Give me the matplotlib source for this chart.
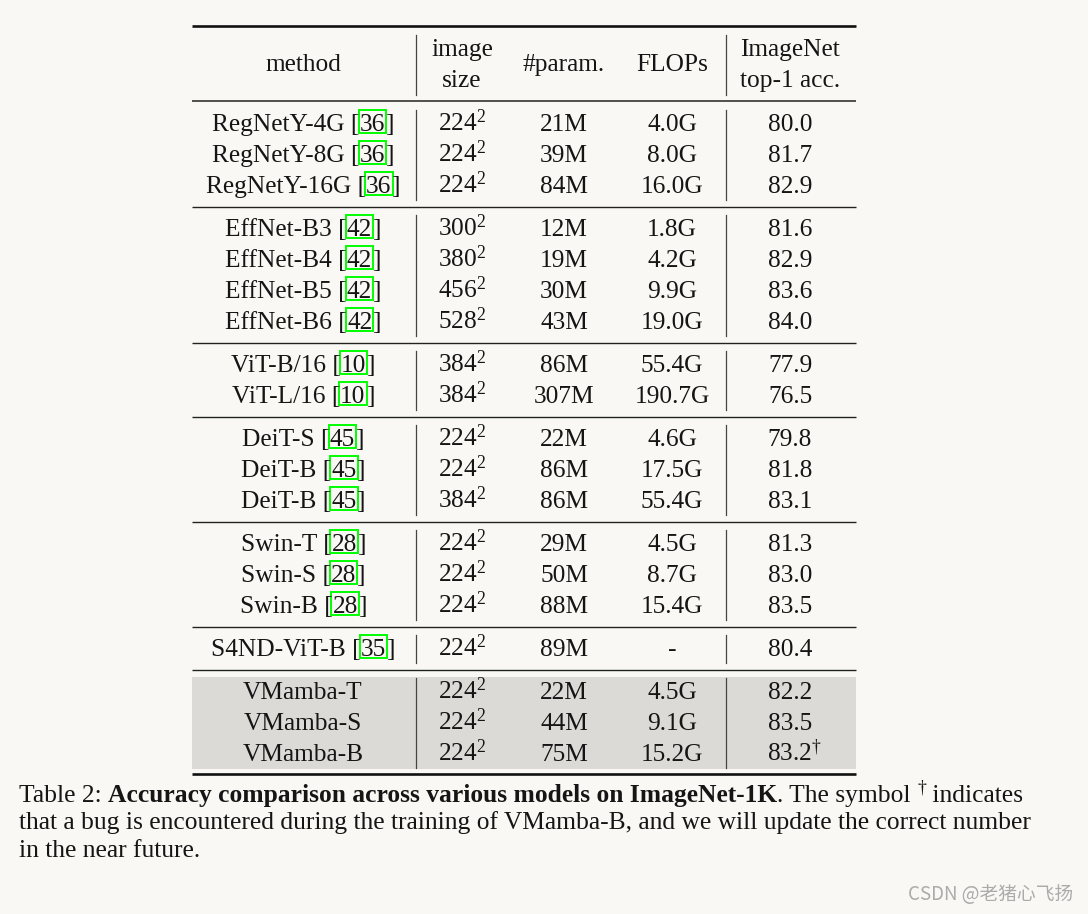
import matplotlib
matplotlib.use('Agg')
import matplotlib.pyplot as plt
from matplotlib.patches import Rectangle

# table data
groups = [3, 4, 2, 3, 3, 1, 3]
methods = ['RegNetY-4G', 'RegNetY-8G', 'RegNetY-16G',
           'EffNet-B3', 'EffNet-B4', 'EffNet-B5', 'EffNet-B6',
           'ViT-B/16', 'ViT-L/16',
           'DeiT-S', 'DeiT-B', 'DeiT-B',
           'Swin-T', 'Swin-S', 'Swin-B',
           'S4ND-ViT-B',
           'VMamba-T', 'VMamba-S', 'VMamba-B']
cites = ['36', '36', '36', '42', '42', '42', '42', '10', '10',
         '45', '45', '45', '28', '28', '28', '35', '', '', '']
image_sizes = ['224', '224', '224', '300', '380', '456', '528', '384', '384',
               '224', '224', '384', '224', '224', '224', '224', '224', '224', '224']
params = ['21M', '39M', '84M', '12M', '19M', '30M', '43M', '86M', '307M',
          '22M', '86M', '86M', '29M', '50M', '88M', '89M', '22M', '44M', '75M']
flops = ['4.0G', '8.0G', '16.0G', '1.8G', '4.2G', '9.9G', '19.0G', '55.4G', '190.7G',
         '4.6G', '17.5G', '55.4G', '4.5G', '8.7G', '15.4G', '-', '4.5G', '9.1G', '15.2G']
acc = ['80.0', '81.7', '82.9', '81.6', '82.9', '83.6', '84.0', '77.9', '76.5',
       '79.8', '81.8', '83.1', '81.3', '83.0', '83.5', '80.4', '82.2', '83.5', '83.2']
acc_mark = [''] * 18 + [r'$^{\dagger}$']
highlight_group = 6

caption_lines = [
    [('Table 2: ', 'normal'), ('Accuracy comparison across various models on ImageNet-1K', 'bold'),
     ('. The symbol ', 'normal'), ('†', 'sup'), (' indicates', 'normal')],
    [('that a bug is encountered during the training of VMamba-B, and we will update the correct number', 'normal')],
    [('in the near future.', 'normal')],
]

W, H = 1088, 914
BG = '#f9f8f5'
BAND = '#dbdad6'
INK = '#151515'
SERIF = 'Liberation Serif'
FS = 18.3
CAP_FS = 18.4

plt.rcParams['mathtext.fontset'] = 'custom'
plt.rcParams['mathtext.rm'] = SERIF
plt.rcParams['mathtext.it'] = SERIF + ':italic'
plt.rcParams['mathtext.bf'] = SERIF + ':bold'

fig = plt.figure(figsize=(W / 100, H / 100), dpi=100, facecolor=BG)
ax = fig.add_axes([0, 0, 1, 1])
ax.set_xlim(0, W)
ax.set_ylim(H, 0)
ax.axis('off')
ax.set_facecolor(BG)
renderer = fig.canvas.get_renderer()


def width_of(s, size, weight='normal'):
    t = ax.text(0, 0, s, fontsize=size, family=SERIF, weight=weight)
    bb = t.get_window_extent(renderer)
    t.remove()
    return bb.width


def draw_pieces(pieces, x, base, align='center', size=FS):
    # pieces: (text, kind) ; kind in normal/bold/sup/box ; base = baseline y
    widths = []
    for s, kind in pieces:
        sz = size * 0.7 if kind == 'sup' else size
        w = width_of(s, sz, 'bold' if kind == 'bold' else 'normal')
        widths.append(w)
    total = sum(widths)
    cx = x - total / 2 if align == 'center' else x
    for (s, kind), w in zip(pieces, widths):
        if kind == 'sup':
            ax.text(cx, base - size * 0.5, s, fontsize=size * 0.7, family=SERIF,
                    ha='left', va='baseline', color=INK)
        else:
            ax.text(cx, base, s, fontsize=size, family=SERIF, ha='left', va='baseline',
                    weight='bold' if kind == 'bold' else 'normal', color=INK)
        if kind == 'box':
            ax.add_patch(Rectangle((cx - 1, base - 21), w + 2, 23, fill=False,
                                   edgecolor='#00ff00', lw=1.4))
        cx += w


def ctext(x, base, s):
    ax.text(x, base, s, fontsize=FS, family=SERIF, ha='center', va='baseline', color=INK)


L, R = 192, 856
VX = [416, 726]
col_x = [303, 462, 564, 672, 790]

# rules
ax.plot([L, R], [26, 26], color='#111111', lw=1.9, solid_capstyle='butt')
ax.plot([L, R], [101, 101], color='#222222', lw=1.1, solid_capstyle='butt')

# header
ctext(col_x[0], 71, 'method')
ctext(col_x[1], 56, 'image')
ctext(col_x[1], 87, 'size')
ctext(col_x[2], 71, '#param.')
ctext(col_x[3], 71, 'FLOPs')
ctext(col_x[4], 56, 'ImageNet')
ctext(col_x[4], 87, 'top-1 acc.')
for vx in VX:
    ax.plot([vx, vx], [35, 95], color='#444444', lw=0.9)

# body
y = 122
step = 31
gap = 43
i = 0
for g, n in enumerate(groups):
    y0 = y
    ys = []
    for k in range(n):
        ys.append(y)
        if k < n - 1:
            y += step
    y1 = y
    if g == highlight_group:
        ax.add_patch(Rectangle((L, y0 - 13), R - L, (y1 - y0) + 30, color=BAND, lw=0, zorder=0))
    for vx in VX:
        ax.plot([vx, vx], [y0 - 12, y1 + 16], color='#444444', lw=0.9)
    for yy in ys:
        base = yy + 9
        pieces = [(methods[i], 'normal')]
        if cites[i]:
            pieces = [(methods[i] + ' [', 'normal'), (cites[i], 'box'), (']', 'normal')]
        draw_pieces(pieces, col_x[0], base)
        ctext(col_x[1], base, image_sizes[i] + r'$^{\mathrm{2}}$')
        ctext(col_x[2], base, params[i])
        ctext(col_x[3], base, flops[i])
        if acc_mark[i]:
            ctext(col_x[4] + 4, base, acc[i] + acc_mark[i])
        else:
            ctext(col_x[4], base, acc[i])
        i += 1
    if g < len(groups) - 1:
        ry = y1 + 23
        ax.plot([L, R], [ry, ry], color='#222222', lw=1.0, solid_capstyle='butt')
        y = y1 + gap
    else:
        ry = y1 + 22
        ax.plot([L, R], [ry, ry], color='#111111', lw=1.9, solid_capstyle='butt')

# caption
cy = 802
for line in caption_lines:
    draw_pieces(line, 19, cy, align='left', size=CAP_FS)
    cy += 27.5

ax.text(1073, 894, 'CSDN @老猪心飞扬', fontsize=13.5, ha='right', va='center', color='#ababab',
        family=['Noto Sans CJK SC', 'DejaVu Sans'])

fig.savefig('out.png', dpi=100, facecolor=BG)
